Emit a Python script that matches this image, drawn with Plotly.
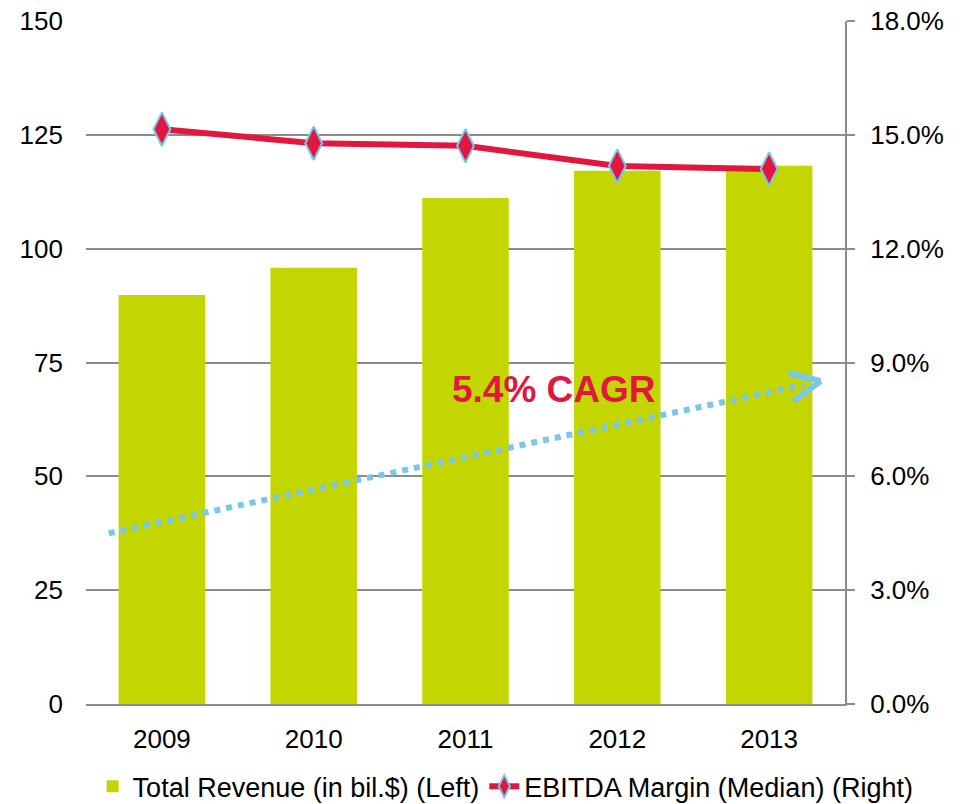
import plotly.graph_objects as go

# data
years = ["2009", "2010", "2011", "2012", "2013"]
revenue = [89.8, 95.8, 111.1, 117.1, 118.2]          # bil. $, left axis
ebitda_margin = [15.15, 14.78, 14.71, 14.18, 14.10]  # %, right axis

green = "#C4D600"
red = "#E2173F"
light_blue = "#7AC7EA"
grid_gray = "#8C8C8C"
font_family = "Arial, Liberation Sans, sans-serif"

fig = go.Figure()
fig.add_trace(
    go.Bar(
        x=years,
        y=revenue,
        name="Total Revenue (in bil.$) (Left)",
        marker_color=green,
        marker_line_width=0,
    )
)
fig.add_trace(
    go.Scatter(
        x=years,
        y=ebitda_margin,
        name="EBITDA Margin (Median) (Right)",
        yaxis="y2",
        mode="lines+markers",
        line=dict(color=red, width=6),
        marker=dict(symbol="diamond-tall", size=24, color=red,
                    line=dict(color=light_blue, width=2)),
    )
)

# dotted CAGR arrow (category index / left-axis units)
fig.add_shape(type="line", xref="x", yref="y", x0=-0.35, y0=37.5, x1=4.23, y1=70.1,
              line=dict(color=light_blue, width=6, dash="dot"))
fig.add_shape(type="line", xref="x", yref="y", x0=4.13, y0=72.7, x1=4.34, y1=70.9,
              line=dict(color=light_blue, width=6))
fig.add_shape(type="line", xref="x", yref="y", x0=4.16, y0=66.5, x1=4.34, y1=70.9,
              line=dict(color=light_blue, width=6))
fig.add_annotation(x=2.58, y=69.0, xref="x", yref="y", text="<b>5.4% CAGR</b>",
                   showarrow=False, font=dict(size=37, color=red, family=font_family))

fig.update_layout(
    width=963,
    height=804,
    margin=dict(l=86, r=118, t=21, b=100, autoexpand=False),
    plot_bgcolor="white",
    paper_bgcolor="white",
    font=dict(family=font_family, size=26, color="black"),
    bargap=0.43,
    showlegend=True,
    legend=dict(orientation="h", x=1.097, xanchor="right", y=-0.121, yanchor="middle",
                font=dict(size=27), itemwidth=30, tracegroupgap=0),
    xaxis=dict(
        showline=True, linecolor=grid_gray, linewidth=2,
        showgrid=False, ticks="", ticklabelstandoff=11,
    ),
    yaxis=dict(
        range=[0, 150], dtick=25, showgrid=True, gridcolor=grid_gray, gridwidth=1.5,
        zeroline=False, showline=False, ticks="", ticklabelstandoff=22,
        ticklabeloverflow="allow",
    ),
    yaxis2=dict(
        range=[0, 18], dtick=3, overlaying="y", side="right",
        tickformat=".1f", ticksuffix="%", showgrid=False, zeroline=False,
        showline=True, linecolor=grid_gray, linewidth=2,
        ticks="outside", ticklen=8, tickcolor=grid_gray, tickwidth=2,
        ticklabelstandoff=10, ticklabeloverflow="allow",
    ),
)

# drop the default 8px page margin so the figure fills the window
fig.write_html("out.html", config={"displayModeBar": False},
               post_script="document.body.style.margin='0';")
